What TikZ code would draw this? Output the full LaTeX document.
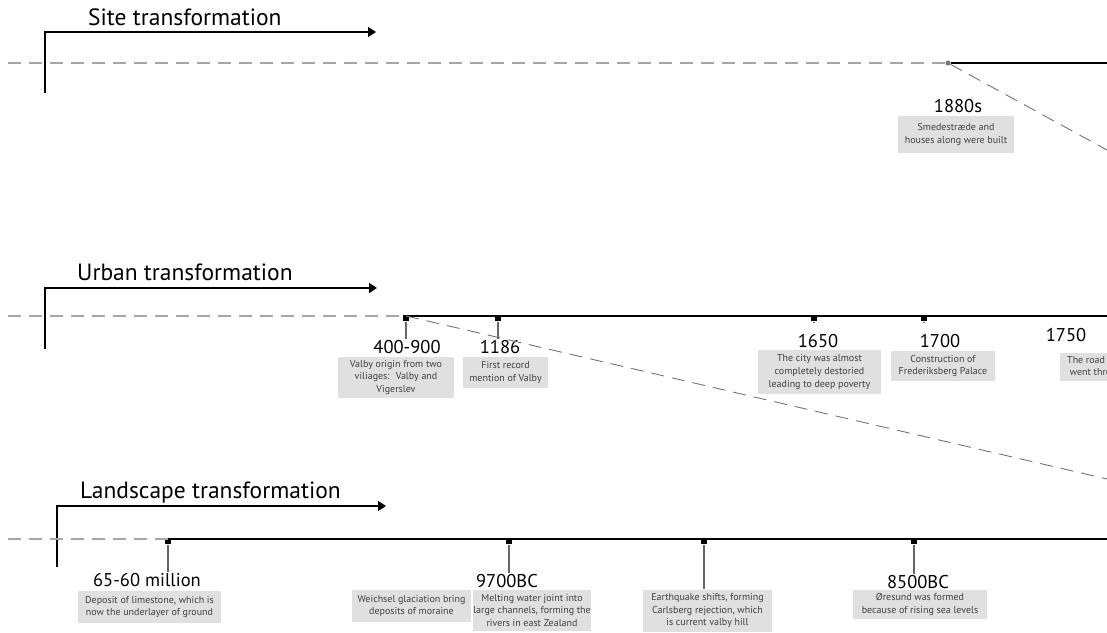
\documentclass[tikz,border=0pt]{standalone}
\usepackage{fontspec}
\setmainfont{PT Sans}
\usetikzlibrary{arrows,arrows.meta,positioning,calc}
\tikzset{
    title/.style =  {font=\fontsize{23.5}{23.5}\selectfont,
                    text=black,
                    inner sep=0pt,
                    anchor=base west},
    year/.style =   {font=\fontsize{18.5}{18.5}\selectfont,
                    text=black,
                    inner sep=1pt,
                    anchor=base},
    note/.style =   {rectangle,
                    fill=black!12,
                    text=black!75,
                    font=\fontsize{10}{12.7}\selectfont,
                    align=center,
                    inner sep=0pt},
    tick/.style =   {rectangle,
                    fill=black,
                    inner sep=0pt,
                    minimum size=6pt},
    dot/.style =    {circle,
                    fill=black!55,
                    inner sep=0pt,
                    minimum size=5pt},
    -,
    guide/.style =  {draw=black!35,
                    line width=1.3pt,
                    dash pattern=on 13pt off 8pt},
    slant/.style =  {draw=black!55,
                    line width=0.9pt,
                    dash pattern=on 13pt off 8pt},
    axis/.style =   {draw=black,
                    line width=1.6pt},
    stem/.style =   {draw=black!60,
                    line width=1.1pt},
    bracket/.style ={draw=black,
                    line width=1.6pt,
                    -{Triangle[length=8pt,width=10pt]}}}

\begin{document}
\begin{tikzpicture}[x=1pt,y=-1pt]
                \useasboundingbox (0,0) rectangle (1107,632);
                \clip (0,0) rectangle (1107,632);

                % site
                \coordinate (sb0) at (45,93);
                \coordinate (sb1) at (45,32);
                \coordinate (sb2) at (376,32);
                \coordinate (s0)  at (8,63);
                \coordinate (s1)  at (948,63);
                \coordinate (s2)  at (1107,63);
                \coordinate (s3)  at (1107,150);
                \node[title]        (stitle) at (88,25)     {Site transformation};
                \node[dot]          (p1880) at (s1)         {};
                \node[year]         (y1880) at (958,112)    {1880s};
                \node[note,minimum width=116pt,minimum height=37pt] (n1880) at (956,134.5)
                                    {Smedestræde and\\houses along were built};

                \draw[bracket]  (sb0) -- (sb1) -- (sb2);
                \draw[guide]    (s0) -- (p1880);
                \draw[axis]     (p1880) -- (s2);
                \draw[slant]    (p1880) -- (s3);

                % urban
                \coordinate (ub0) at (45,349);
                \coordinate (ub1) at (45,288);
                \coordinate (ub2) at (377,288);
                \coordinate (u0)  at (8,316);
                \coordinate (u1)  at (406,316);
                \coordinate (u2)  at (1107,316);
                \coordinate (u3)  at (1107,479);
                \coordinate (u4)  at (498,316);
                \coordinate (u5)  at (814,316);
                \coordinate (u6)  at (924,316);
                \node[title]        (utitle) at (77,280)    {Urban transformation};
                \node[tick]         (t400)  [below=-0.8pt of u1]  {};
                \node[tick]         (t1186) [below=-0.8pt of u4]  {};
                \node[tick]         (t1650) [below=-0.8pt of u5]  {};
                \node[tick]         (t1700) [below=-0.8pt of u6]  {};
                \node[year]         (y400)  at (407,353)    {400-900};
                \node[year]         (y1186) at (500,353)    {1186};
                \node[year]         (y1650) at (818,347)    {1650};
                \node[year]         (y1700) at (940,347)    {1700};
                \node[year]         (y1750) at (1066,341)   {1750};
                \node[note,minimum width=116pt,minimum height=41pt] (n400) at (396,377.5)
                                    {Valby origin from two\\viliages:~ Valby and\\Vigerslev};
                \node[note,minimum width=85pt,minimum height=31pt] (n1186) at (505.5,372.5)
                                    {First record\\mention of Valby};
                \node[note,minimum width=123pt,minimum height=44pt] (n1650) at (819.5,372)
                                    {The city was almost\\completely destoried\\leading to deep poverty};
                \node[note,minimum width=104pt,minimum height=30pt] (n1700) at (943,366)
                                    {Construction of\\Frederiksberg Palace};
                \node[note,align=left,anchor=west,inner xsep=7pt,minimum height=28pt] (n1750) at (1060,367)
                                    {The road\\~went through};

                \draw[bracket]  (ub0) -- (ub1) -- (ub2);
                \draw[guide]    (u0) -- (u1);
                \draw[axis]     (u1) -- (u2);
                \draw[slant]    (u1) -- (u3);
                \path[stem]     (t400)  edge (t400 |- y400.north)
                                (t1186) edge (t1186 |- y1186.north)
                                (t1650) edge [shorten >=10pt] (t1650 |- y1650.north)
                                (t1700) edge [shorten >=10pt] (t1700 |- y1700.north);

                % landscape
                \coordinate (lb0) at (57,567);
                \coordinate (lb1) at (57,506);
                \coordinate (lb2) at (386,506);
                \coordinate (l0)  at (8,539);
                \coordinate (l1)  at (168,539);
                \coordinate (l2)  at (1107,539);
                \coordinate (l3)  at (509,539);
                \coordinate (l4)  at (704,539);
                \coordinate (l5)  at (914,539);
                \node[title]        (ltitle) at (80,498)    {Landscape transformation};
                \node[tick]         (t6560) [below=-0.8pt of l1]  {};
                \node[tick]         (t9700) [below=-0.8pt of l3]  {};
                \node[tick]         (tquake)[below=-0.8pt of l4]  {};
                \node[tick]         (t8500) [below=-0.8pt of l5]  {};
                \node[year]         (y6560) at (147,586)    {65-60 million};
                \node[year]         (y9700) at (507,587)    {9700BC};
                \node[year]         (y8500) at (918,588)    {8500BC};
                \node[note,minimum width=143pt,minimum height=32pt] (n6560) at (149.5,607)
                                    {Deposit of limestone, which is\\now the underlayer of ground};
                \node[note,minimum width=119pt,minimum height=32pt] (nweich) at (411.5,606)
                                    {Weichsel glaciation bring\\deposits of moraine};
                \node[note,minimum width=112pt,minimum height=41pt] (n9700) at (532,610.5)
                                    {Melting water joint into\\large channels, forming the\\rivers in east Zealand};
                \node[note,minimum width=129pt,minimum height=42pt] (nquake) at (707.5,610.5)
                                    {Earthquake shifts, forming\\Carlsberg rejection, which\\is current valby hill};
                \node[note,minimum width=134pt,minimum height=29pt] (n8500) at (920,604.5)
                                    {Øresund was formed\\because of rising sea levels};

                \draw[bracket]  (lb0) -- (lb1) -- (lb2);
                \draw[guide]    (l0) -- (l1);
                \draw[axis]     (l1) -- (l2);
                \path[stem]     (t6560) edge (t6560 |- y6560.north)
                                (t9700) edge (t9700 |- y9700.north)
                                (tquake) edge (tquake |- nquake.north)
                                (t8500) edge (t8500 |- y8500.north);
        \end{tikzpicture}
\end{document}
